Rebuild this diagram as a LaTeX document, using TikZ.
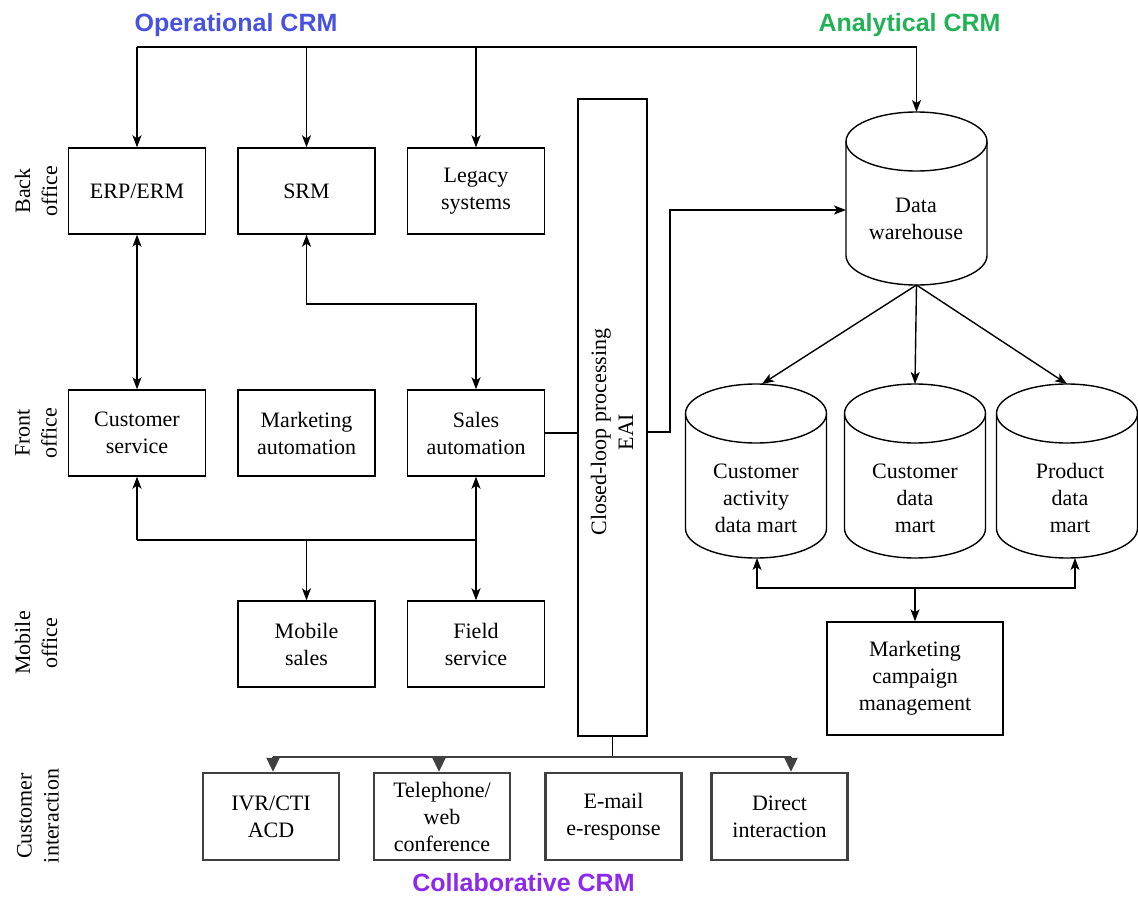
\documentclass[tikz,border=0pt]{standalone}
\usepackage{fontspec}
\setmainfont{Liberation Serif}
\newfontfamily\titlefont{Liberation Sans}
\usetikzlibrary{arrows.meta,calc}
\definecolor{opblue}{RGB}{72,82,222}
\definecolor{angreen}{RGB}{34,178,86}
\definecolor{copurple}{RGB}{140,40,240}
\definecolor{dgray}{RGB}{64,64,64}
\newcommand\drawcyl[1]{%
  \draw[cylline] ([yshift=-29.5pt]#1.north) ellipse [x radius=70.5pt, y radius=29.5pt];
  \draw[cylline] ([yshift=-29.5pt]#1.north west) -- ([yshift=29.5pt]#1.south west)
     arc[start angle=180, end angle=360, x radius=70.5pt, y radius=29.5pt]
     -- ([yshift=-29.5pt]#1.north east);}
\begin{document}
\begin{tikzpicture}[x=1pt,y=-1pt,
  txt/.style={font=\fontsize{22}{27}\selectfont, align=center},
  box/.style={txt, draw, line width=1.4pt, minimum width=137pt, minimum height=86pt, inner sep=0pt},
  ibox/.style={box, draw=dgray, line width=2.4pt, minimum width=136pt, minimum height=87pt},
  cyl/.style={minimum width=141pt, minimum height=174pt, inner sep=0pt, outer sep=0pt},
  cylline/.style={line width=1.4pt},
  side/.style={txt, rotate=90},
  title/.style={font=\titlefont\bfseries\fontsize{25}{30}\selectfont},
  line/.style={line width=1.4pt},
  arr/.style={line, -{Stealth[length=12pt,width=9pt,inset=3pt]}},
  darr/.style={line, {Stealth[length=12pt,width=9pt,inset=3pt]}-{Stealth[length=12pt,width=9pt,inset=3pt]}},
  bigarr/.style={line width=2pt, dgray, -{Triangle[length=14pt,width=13pt]}}
]
\useasboundingbox[fill=white] (0,0) rectangle (1138,899);

% titles
\node[title, text=opblue] (op) at (236,25) {Operational CRM};
\node[title, text=angreen] (an) at (909.5,25) {Analytical CRM};
\node[title, text=copurple] (co) at (523.5,883) {Collaborative CRM};

% side labels
\node[side] (lback) at (36,191) {Back\\office};
\node[side] (lfront) at (36,433) {Front\\office};
\node[side] (lmobile) at (36,643) {Mobile\\office};
\node[side] (lcust) at (38,816) {Customer\\interaction};

% operational boxes
\node[box] (erp) at (137,191) {ERP/ERM};
\node[box] (srm) at (306.5,191) {SRM};
\node[box] (legacy) at (476,191) {Legacy\\systems};
\node[box] (cs) at (137,433) {Customer\\service};
\node[box] (ma) at (306.5,433) {Marketing\\automation};
\node[box] (sa) at (476,433) {Sales\\automation};
\node[box] (ms) at (306.5,644) {Mobile\\sales};
\node[box] (fs) at (476,644) {Field\\service};

% closed loop
\node[draw, line width=1.4pt, minimum width=69pt, minimum height=637pt, inner sep=0pt] (eai) at (612.5,417.5) {};
\node[side] (eaitext) at (612,432) {Closed-loop processing\\EAI};

% data warehouse and marts
\node[cyl, minimum height=173pt] (dw) at (916.5,198.5) {};
\drawcyl{dw}
\node[txt] (dwt) at (916,218.5) {Data\\warehouse};
\node[cyl] (act) at (756,471) {};
\drawcyl{act}
\node[txt] (actt) at (756,498) {Customer\\activity\\data mart};
\node[cyl] (cust) at (915,471) {};
\drawcyl{cust}
\node[txt] (custt) at (915,498) {Customer\\data\\mart};
\node[cyl] (prod) at (1067,471) {};
\drawcyl{prod}
\node[txt] (prodt) at (1070,498) {Product\\data\\mart};
\node[box, minimum width=176pt, minimum height=113pt] (mcm) at (915,678.5) {Marketing\\campaign\\management};

% interaction boxes
\node[ibox] (ivr) at (271,816.5) {IVR/CTI\\ACD};
\node[ibox] (tel) at (442,816.5) {Telephone/\\web\\conference};
\node[ibox] (email) at (613.5,816.5) {E-mail\\e-response};
\node[ibox] (direct) at (779.5,816.5) {Direct\\interaction};

% top bus
\coordinate (t1) at (137,47);
\coordinate (t4) at (916.5,47);
\draw[line] (t1) -- (t4);
\draw[arr] (t1) -- (erp.north);
\draw[arr] (srm.north |- t1) -- (srm.north);
\draw[arr] (legacy.north |- t1) -- (legacy.north);
\draw[arr] (t4) -- (dw.north);

% back-front links
\draw[darr] (erp.south) -- (cs.north);
\coordinate (j1) at (476,304);
\draw[darr] (srm.south) |- (j1) -- (sa.north);

% sales to closed loop to warehouse
\draw[line] (sa.east) -- (sa.east -| eai.west);
\coordinate (k1) at (670,432);
\coordinate (k2) at (670,210);
\draw[arr] (eai.east |- k1) -- (k1) -- (k2) -- (k2 -| dw.west);

% front-mobile bus
\coordinate (b1) at (137,540);
\coordinate (b3) at (476,540);
\draw[line] (b1) -- (b3);
\draw[arr] (b1) -- (cs.south);
\draw[arr] (ms.north |- b1) -- (ms.north);
\draw[darr] (sa.south) -- (fs.north);

% warehouse to marts
\draw[arr] (dw.south) -- ([xshift=6pt]act.north);
\draw[arr] (dw.south) -- (cust.north);
\draw[arr] (dw.south) -- (prod.north);

% marts to campaign
\coordinate (m1) at (757,588);
\coordinate (m3) at (1075,588);
\draw[darr] (m1 |- act.south) -- (m1) -- (m3) -- (m3 |- prod.south);
\draw[arr] (mcm.north |- m1) -- (mcm.north);

% closed loop to interaction
\coordinate (c1) at (273,757);
\coordinate (c2) at (439,757);
\coordinate (c4) at (791,757);
\draw[line] (eai.south) -- (eai.south |- c1);
\draw[line width=2pt, dgray] (c1) -- (c4);
\draw[bigarr] (c1) -- (c1 |- ivr.north);
\draw[bigarr] (c2) -- (c2 |- tel.north);
\draw[bigarr] (c4) -- (c4 |- direct.north);
\end{tikzpicture}
\end{document}
